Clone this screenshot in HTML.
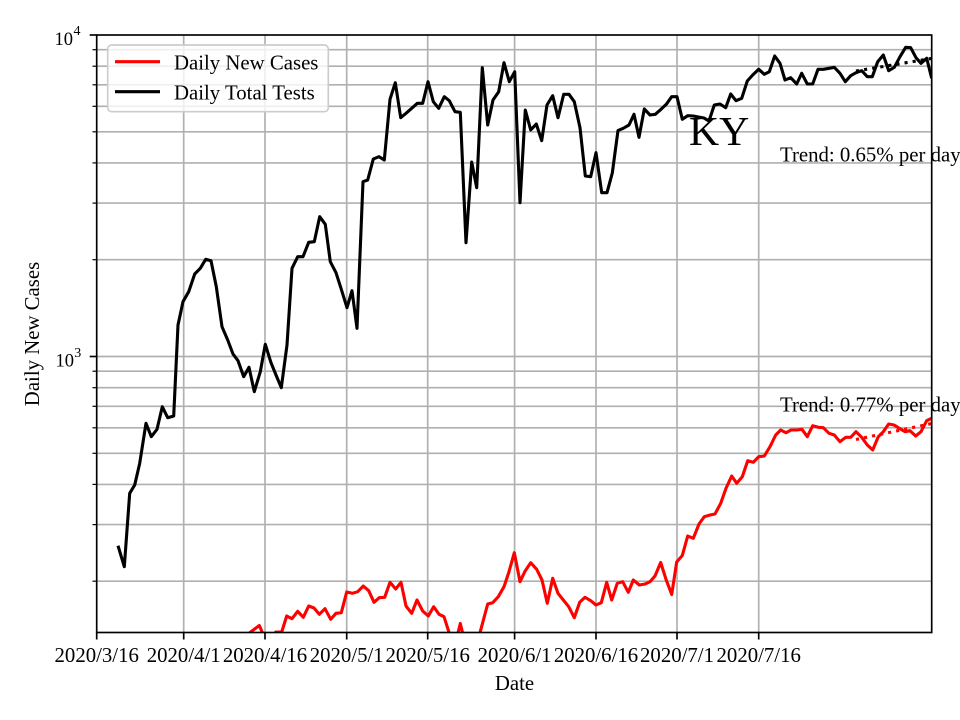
<!DOCTYPE html>
<html>
<head>
<meta charset="utf-8">
<style>
html,body{margin:0;padding:0;background:#fff;}
svg{display:block;}
text{font-family:"Liberation Serif","DejaVu Serif",serif;fill:#000;}
</style>
</head>
<body>
<svg width="960" height="720" viewBox="0 0 960 720" xmlns="http://www.w3.org/2000/svg">
<defs>
<clipPath id="ax"><rect x="96.7" y="35" width="835" height="597.5"/></clipPath>
</defs>
<rect x="0" y="0" width="960" height="720" fill="#fff"/>

<!-- grid -->
<g stroke="#b0b0b0" stroke-width="1.67" fill="none">
<line x1="96.7" x2="931.7" y1="581.2" y2="581.2"/>
<line x1="96.7" x2="931.7" y1="524.6" y2="524.6"/>
<line x1="96.7" x2="931.7" y1="484.4" y2="484.4"/>
<line x1="96.7" x2="931.7" y1="453.3" y2="453.3"/>
<line x1="96.7" x2="931.7" y1="427.8" y2="427.8"/>
<line x1="96.7" x2="931.7" y1="406.3" y2="406.3"/>
<line x1="96.7" x2="931.7" y1="387.7" y2="387.7"/>
<line x1="96.7" x2="931.7" y1="371.2" y2="371.2"/>
<line x1="96.7" x2="931.7" y1="356.5" y2="356.5"/>
<line x1="96.7" x2="931.7" y1="259.7" y2="259.7"/>
<line x1="96.7" x2="931.7" y1="203.1" y2="203.1"/>
<line x1="96.7" x2="931.7" y1="162.9" y2="162.9"/>
<line x1="96.7" x2="931.7" y1="131.8" y2="131.8"/>
<line x1="96.7" x2="931.7" y1="106.3" y2="106.3"/>
<line x1="96.7" x2="931.7" y1="84.8" y2="84.8"/>
<line x1="96.7" x2="931.7" y1="66.2" y2="66.2"/>
<line x1="96.7" x2="931.7" y1="49.7" y2="49.7"/>
<line y1="35" y2="632.5" x1="183.7" x2="183.7"/>
<line y1="35" y2="632.5" x1="265" x2="265"/>
<line y1="35" y2="632.5" x1="346.7" x2="346.7"/>
<line y1="35" y2="632.5" x1="427.7" x2="427.7"/>
<line y1="35" y2="632.5" x1="514.6" x2="514.6"/>
<line y1="35" y2="632.5" x1="596" x2="596"/>
<line y1="35" y2="632.5" x1="677" x2="677"/>
<line y1="35" y2="632.5" x1="758.7" x2="758.7"/>
</g>

<g clip-path="url(#ax)" fill="none" stroke-width="3.1" stroke-linejoin="round" stroke-linecap="square">
<!-- red: daily new cases -->
<polyline stroke="#ff0000" points="245,650 250,632.5 259.3,625.5 263,634 268,645 272,640 275.7,632 281.7,632 286.7,616 292,618.7 297.7,611.3 303.3,617.3 308.7,606 314,608 319.3,614.3 325,608.7 330.7,619.3 336,613.3 341.3,612.7 346.7,592 352.3,593.3 357.7,591.7 363.3,586 368.7,590.7 374,602.3 379.3,597.7 384.7,597.3 390,582.3 395.7,589 401,582.3 406,606 411.7,613.3 417,600 422.7,611 428.3,616 433.7,606.7 439,614.3 444,616.7 449.3,633.3 455,645 460.3,623.5 465.5,645 471,648 476,645 480,632.7 487.7,604 492.7,602.7 498.3,596.7 504,586.7 509,571.7 514.3,552.7 520,581.7 525.3,570.7 530.7,562.7 536.7,569.3 542,580 547.3,603.3 552.7,578.3 558,593.3 563.3,600 568.7,606.7 574.3,617.7 579.7,602.3 585,597.3 590.7,600.7 596,605 601.3,602.7 606.7,582.3 611.7,600 617.3,583.3 622.7,581.7 628.3,592.3 633.3,580 639.3,585 645,584 650,581.7 655,576 660.7,562.5 666,579.3 671.7,594.5 676.7,562 682.3,555.5 687.7,536 693.3,538.3 699,524 704.3,516.7 710,515 715,514 720.7,503.3 726,488.3 731.7,476 736.7,483.3 742.3,476.7 747.7,460.7 753.3,462.3 758.7,456.7 764.3,456 770,446.7 775.7,435 780.7,430 786,432.7 791,430 796.7,430 802,429.3 807.3,436.7 812.7,425.7 818.3,427.3 823.3,427.7 829,433.3 834.3,435 840,441.7 845.7,437.3 850.7,437.3 856,431.7 861.7,437.3 867.3,445 872.7,450 878.3,436.7 883.3,431.7 888.7,424 894,425 899.3,428.3 905,431.7 910,430.7 915.7,436 921,431.7 926.7,420.7 931.7,418.3"/>
<!-- black: daily total tests -->
<polyline stroke="#000000" stroke-linecap="butt" points="118,545.7 124.3,566.7 129.7,493.3 134.7,485 139.7,463.3 146,423.3 151.3,436.7 157,429.3 162.3,406.7 167.7,417.7 173.7,416 178,325 183,301.7 188.7,291.7 194.7,274 200.3,268.3 205.7,259.3 211,260.7 216.3,286.7 222,326.7 227.7,340 233,354 238,360.7 243.7,376.7 249,367.3 254.3,391.7 260.3,371.7 265.3,344.3 271,362.7 276,375 281.3,387.7 287,345 292,268.3 297.7,256.7 303,256.7 308.7,242.3 314.3,241.7 319.7,216.7 325.3,224.3 330.3,261.7 336,272.7 341.3,289.3 347,307.7 352,290.7 357,328.3 363,181.7 367.7,180 373.3,159 379,156.7 384.3,160 390,99.3 395.3,82.7 400.7,117.7 406,113.3 411.7,108.3 417.3,103.3 422.7,103.3 428,81.7 433.3,101.7 438.7,108.3 444.3,96.7 449.3,100.7 455,111.7 460.3,112.3 466,242.7 471.7,162 476.7,187.7 482.3,67.7 487.7,125 493,100 498.7,91.7 504,62.7 509.3,81.7 514.7,71.7 520,202.7 525.3,110 530.7,130 536.3,124 541.7,140.7 547,105 552.7,95.7 558,117.7 563.7,94.3 569,94.3 574.3,101.7 580,127.7 585.3,176 590.7,176.7 596,152.7 601.7,192.7 607,192.7 612.3,173 618,130.5 623.3,128.3 629,125 634,114.3 639,137.3 644.3,109 650,115 655.3,114.3 661,109.3 666.3,104.3 671.7,96.7 677,96.7 682.3,119.3 687.7,115.7 693.3,116 698.5,117 704,118 709,121 714.3,105 720,104 725.7,107.7 730.7,94 736,100.7 741.7,98.3 747.3,81 752.7,75 758.7,69.3 764.3,74.3 769.3,71.7 774.7,56 780,63.3 785,80 790.7,77.7 796.7,84 801.7,73.3 807.3,84 812.7,84 818,69.3 823.3,69.3 829,68.3 834.3,67.3 840,73.3 845.3,81.7 850.7,75.7 856,72.7 861.7,70.7 867.3,76.7 872.3,76.7 877.7,61.7 883.3,55 888.7,70.7 894.3,67.3 900,56.7 905.7,47.3 910.7,47.7 916,57.7 921,63.3 926.7,58.3 931.7,78.3"/>
<!-- trend lines -->
<line x1="856" y1="71" x2="932" y2="58.4" stroke="#000" stroke-width="3.1" stroke-dasharray="3.1 5.1" stroke-linecap="butt"/>
<line x1="856" y1="439.5" x2="932" y2="423.5" stroke="#ff0000" stroke-width="3.1" stroke-dasharray="3.1 5.1" stroke-linecap="butt"/>
</g>

<!-- spines -->
<rect x="96.7" y="35" width="835" height="597.5" fill="none" stroke="#000" stroke-width="1.67"/>

<!-- ticks -->
<g stroke="#000" stroke-width="1.67">
<line x1="96.7" x2="96.7" y1="632.5" y2="639.5"/>
<line x1="183.7" x2="183.7" y1="632.5" y2="639.5"/>
<line x1="265" x2="265" y1="632.5" y2="639.5"/>
<line x1="346.7" x2="346.7" y1="632.5" y2="639.5"/>
<line x1="427.7" x2="427.7" y1="632.5" y2="639.5"/>
<line x1="514.6" x2="514.6" y1="632.5" y2="639.5"/>
<line x1="596" x2="596" y1="632.5" y2="639.5"/>
<line x1="677" x2="677" y1="632.5" y2="639.5"/>
<line x1="758.7" x2="758.7" y1="632.5" y2="639.5"/>
<line x1="89.7" x2="96.7" y1="35" y2="35"/>
<line x1="89.7" x2="96.7" y1="356.5" y2="356.5"/>
</g>
<g stroke="#000" stroke-width="1.2">
<line x1="92.5" x2="96.7" y1="581.2" y2="581.2"/>
<line x1="92.5" x2="96.7" y1="524.6" y2="524.6"/>
<line x1="92.5" x2="96.7" y1="484.4" y2="484.4"/>
<line x1="92.5" x2="96.7" y1="453.3" y2="453.3"/>
<line x1="92.5" x2="96.7" y1="427.8" y2="427.8"/>
<line x1="92.5" x2="96.7" y1="406.3" y2="406.3"/>
<line x1="92.5" x2="96.7" y1="387.7" y2="387.7"/>
<line x1="92.5" x2="96.7" y1="371.2" y2="371.2"/>
<line x1="92.5" x2="96.7" y1="259.7" y2="259.7"/>
<line x1="92.5" x2="96.7" y1="203.1" y2="203.1"/>
<line x1="92.5" x2="96.7" y1="162.9" y2="162.9"/>
<line x1="92.5" x2="96.7" y1="131.8" y2="131.8"/>
<line x1="92.5" x2="96.7" y1="106.3" y2="106.3"/>
<line x1="92.5" x2="96.7" y1="84.8" y2="84.8"/>
<line x1="92.5" x2="96.7" y1="66.2" y2="66.2"/>
<line x1="92.5" x2="96.7" y1="49.7" y2="49.7"/>
</g>

<!-- x tick labels -->
<g font-size="20.8" text-anchor="middle">
<text x="96.7" y="662">2020/3/16</text>
<text x="183.7" y="662">2020/4/1</text>
<text x="265" y="662">2020/4/16</text>
<text x="346.7" y="662">2020/5/1</text>
<text x="427.7" y="662">2020/5/16</text>
<text x="514.6" y="662">2020/6/1</text>
<text x="596" y="662">2020/6/16</text>
<text x="677" y="662">2020/7/1</text>
<text x="758.7" y="662">2020/7/16</text>
</g>

<!-- y tick labels -->
<text x="54.5" y="45" font-size="18.5">10</text>
<text x="73.5" y="35" font-size="14">4</text>
<text x="55.5" y="366.7" font-size="18.5">10</text>
<text x="74.3" y="356.8" font-size="14">3</text>

<!-- axis labels -->
<text x="514.5" y="690" font-size="20.8" text-anchor="middle">Date</text>
<text transform="translate(39,334) rotate(-90)" font-size="20.8" text-anchor="middle">Daily New Cases</text>

<!-- annotations -->
<text x="689" y="145" font-size="41.7">KY</text>
<text x="780" y="161.5" font-size="20.8">Trend: 0.65% per day</text>
<text x="780" y="411.7" font-size="20.8">Trend: 0.77% per day</text>

<!-- legend -->
<rect x="107.7" y="45" width="220.6" height="66.7" rx="4" ry="4" fill="#fff" fill-opacity="0.8" stroke="#cccccc" stroke-width="1.67"/>
<line x1="115" x2="160" y1="61.7" y2="61.7" stroke="#ff0000" stroke-width="3.1"/>
<line x1="115" x2="160" y1="91.7" y2="91.7" stroke="#000" stroke-width="3.1"/>
<text x="174" y="69.3" font-size="20.8">Daily New Cases</text>
<text x="174" y="99.3" font-size="20.8">Daily Total Tests</text>
</svg>
</body>
</html>
